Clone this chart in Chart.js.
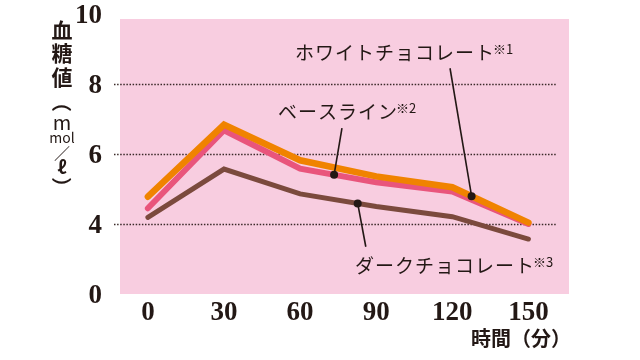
<!DOCTYPE html>
<html>
<head>
<meta charset="utf-8">
<script src="https://cdn.jsdelivr.net/npm/chart.js@4.4.1/dist/chart.umd.min.js"></script>
<style>
  html, body { margin: 0; padding: 0; background: #fff; }
  #wrap { width: 640px; height: 360px; }
</style>
</head>
<body>
<div id="wrap"><canvas id="glucoseCanvas"></canvas></div>
<script>
// minutes after eating
var minutes = [0, 30, 60, 90, 120, 150];
// blood glucose (mmol/l)
var whiteChoco = [4.78, 6.84, 5.82, 5.36, 5.05, 4.04];
var baseline   = [4.45, 6.68, 5.58, 5.19, 4.93, 4.00];
var darkChoco  = [4.19, 5.57, 4.86, 4.50, 4.21, 3.57];
// y ticks; the bottom one is printed as 0 (broken axis)
var yTicks = [2, 4, 6, 8, 10];
var yTickLabels = ["0", "4", "6", "8", "10"];

var INK = "#231815";
var JP = "'Noto Sans CJK JP', 'Noto Sans', sans-serif";
var NUM = "'Liberation Serif', 'DejaVu Serif', serif";

// callouts: which series, where the dot sits (minutes), other end of the leader, text anchor (left, middle)
var callouts = [
    { series: 0, at: 127.6, endX: 119.1, endY: 8.45, textX: 58.0, textY: 8.89, text: "ホワイトチョコレート", note: "※1" },
    { series: 1, at: 73.4,  endX: 76.5,  endY: 6.74, textX: 51.3, textY: 7.21, text: "ベースライン", note: "※2" },
    { series: 2, at: 82.7,  endX: 85.9,  endY: 3.35, textX: 81.6, textY: 2.80, text: "ダークチョコレート", note: "※3" }
];

function valueAt(arr, m){
    for (var i = 0; i < minutes.length - 1; i++) {
        if (m >= minutes[i] && m <= minutes[i + 1]) {
            var t = (m - minutes[i]) / (minutes[i + 1] - minutes[i]);
            return arr[i] + t * (arr[i + 1] - arr[i]);
        }
    }
    return arr[arr.length - 1];
}

var decorPlugin = {
    id: 'decor',
    beforeDraw: function(chart){
        var ctx = chart.ctx, a = chart.chartArea;
        ctx.save();
        ctx.fillStyle = "#F8CDE0";
        ctx.fillRect(a.left, a.top + 5, a.right - a.left, a.bottom - a.top - 5);
        ctx.restore();
    },
    beforeDatasetsDraw: function(chart){
        var ctx = chart.ctx, a = chart.chartArea, ys = chart.scales.y;
        ctx.save();
        ctx.strokeStyle = "#3a2a28";
        ctx.lineWidth = 1.5;
        ctx.setLineDash([1.5, 1.6]);
        [4, 6, 8].forEach(function(v){
            var py = Math.round(ys.getPixelForValue(v)) + 0.5;
            ctx.beginPath();
            ctx.moveTo(a.left - 6, py);
            ctx.lineTo(a.right - 13, py);
            ctx.stroke();
        });
        ctx.restore();
    },
    afterDatasetsDraw: function(chart){
        var ctx = chart.ctx, xs = chart.scales.x, ys = chart.scales.y;
        var series = [whiteChoco, baseline, darkChoco];
        ctx.save();
        callouts.forEach(function(c){
            var dx = xs.getPixelForValue(c.at);
            var dy = ys.getPixelForValue(valueAt(series[c.series], c.at));
            ctx.strokeStyle = INK;
            ctx.lineWidth = 1.6;
            ctx.beginPath();
            ctx.moveTo(dx, dy);
            ctx.lineTo(xs.getPixelForValue(c.endX), ys.getPixelForValue(c.endY));
            ctx.stroke();
            ctx.fillStyle = INK;
            ctx.beginPath();
            ctx.arc(dx, dy, 4, 0, Math.PI * 2);
            ctx.fill();

            var tx = xs.getPixelForValue(c.textX), ty = ys.getPixelForValue(c.textY);
            ctx.textAlign = "left";
            ctx.textBaseline = "middle";
            ctx.font = "19px " + JP;
            ctx.letterSpacing = "1px";
            ctx.fillText(c.text, tx, ty);
            var w = ctx.measureText(c.text).width;
            ctx.font = "13px " + JP;
            ctx.letterSpacing = "0px";
            ctx.fillText(c.note, tx + w - 2, ty - 4);
        });

        // y axis title, stacked vertically (parens are turned sideways)
        var parts = [
            ["血", 30, "bold 21px " + JP, 0],
            ["糖", 53, "bold 21px " + JP, 0],
            ["値", 77, "bold 21px " + JP, 0],
            ["（", 102, "bold 20px " + JP, 1],
            ["m", 122, "20px " + JP, 0],
            ["mol", 138, "14px " + JP, 0],
            ["／", 153, "16px " + JP, 0],
            ["ℓ", 167, "bold 18px " + JP, 0],
            ["）", 187, "bold 20px " + JP, 1]
        ];
        ctx.fillStyle = INK;
        ctx.textAlign = "center";
        ctx.textBaseline = "middle";
        parts.forEach(function(p){
            ctx.font = p[2];
            if (p[3]) {
                ctx.save();
                ctx.translate(62, p[1]);
                ctx.rotate(Math.PI / 2);
                ctx.fillText(p[0], 0, 0);
                ctx.restore();
            } else {
                ctx.fillText(p[0], 62, p[1]);
            }
        });

        // x axis title
        ctx.font = "bold 20px " + JP;
        ctx.textAlign = "left";
        ctx.fillText("時間（分）", 471, 338);
        ctx.restore();
    }
};

var config = {
    type: 'line',
    data: {
        datasets: [{
            label: 'ホワイトチョコレート',
            data: minutes.map(function(m, i){ return { x: m, y: whiteChoco[i] }; }),
            borderColor: '#F08300',
            borderWidth: 6.5
        },{
            label: 'ベースライン',
            data: minutes.map(function(m, i){ return { x: m, y: baseline[i] }; }),
            borderColor: '#E9557C',
            borderWidth: 6
        },{
            label: 'ダークチョコレート',
            data: minutes.map(function(m, i){ return { x: m, y: darkChoco[i] }; }),
            borderColor: '#7B4A3D',
            borderWidth: 5
        }]
    },
    options: {
        responsive: true,
        maintainAspectRatio: false,
        animation: false,
        layout: { padding: { top: 14, right: 71, bottom: 0, left: 0 } },
        elements: {
            point: { radius: 0 },
            line: { tension: 0, borderCapStyle: 'round', borderJoinStyle: 'miter', fill: false }
        },
        plugins: {
            legend: { display: false },
            tooltip: { enabled: false }
        },
        scales: {
            x: {
                type: 'linear',
                min: -11,
                max: 166,
                grid: { display: false },
                border: { display: false },
                afterBuildTicks: function(scale){
                    scale.ticks = minutes.map(function(m){ return { value: m }; });
                },
                afterFit: function(scale){
                    scale.height = 66;
                    scale.paddingLeft = 0;
                    scale.paddingRight = 0;
                },
                ticks: {
                    autoSkip: false,
                    maxRotation: 0,
                    padding: -5,
                    color: INK,
                    font: { family: NUM, size: 27, weight: 'bold' }
                }
            },
            y: {
                min: 2,
                max: 10,
                grid: { display: false },
                border: { display: false },
                afterBuildTicks: function(scale){
                    scale.ticks = yTicks.map(function(v){ return { value: v }; });
                },
                afterFit: function(scale){
                    scale.width = 120;
                    scale.paddingTop = 0;
                    scale.paddingBottom = 0;
                },
                ticks: {
                    padding: 10,
                    labelOffset: 2,
                    color: INK,
                    font: { family: NUM, size: 27, weight: 'bold' },
                    callback: function(value){
                        var k = yTicks.indexOf(value);
                        return k >= 0 ? yTickLabels[k] : '';
                    }
                }
            }
        }
    },
    plugins: [decorPlugin]
};

new Chart(document.getElementById('glucoseCanvas'), config);
</script>
</body>
</html>
